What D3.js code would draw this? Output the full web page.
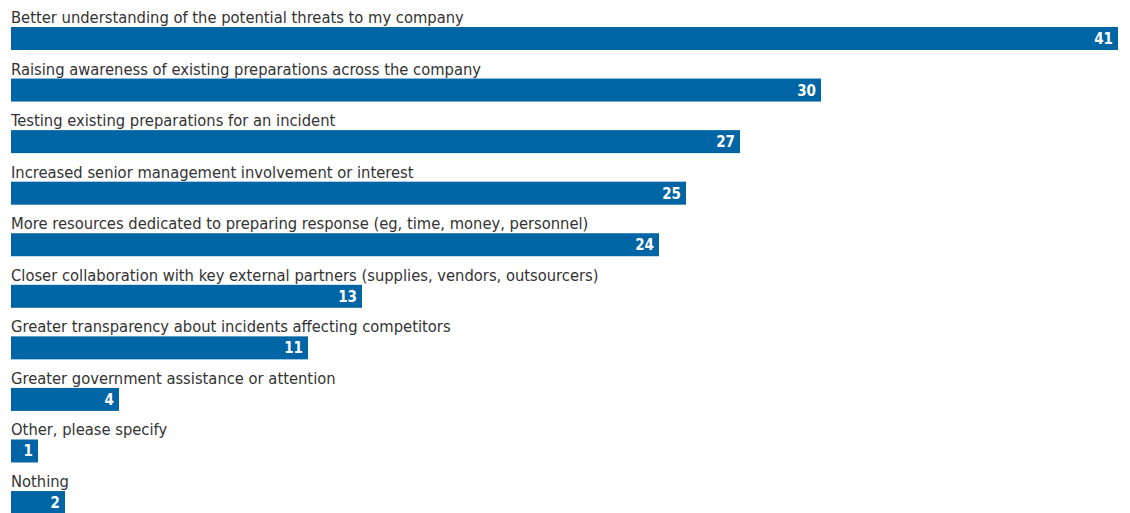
<!DOCTYPE html>
<html>
<head>
<meta charset="utf-8">
<script src="https://cdn.jsdelivr.net/npm/d3@7"></script>
<style>
  html, body { margin: 0; padding: 0; background: #fff; }
  svg { display: block; }
</style>
</head>
<body>
<svg id="chart" width="1130" height="513"></svg>
<script>
// Survey responses, percentage of respondents
const categories = [
  "Better understanding of the potential threats to my company",
  "Raising awareness of existing preparations across the company",
  "Testing existing preparations for an incident",
  "Increased senior management involvement or interest",
  "More resources dedicated to preparing response (eg, time, money, personnel)",
  "Closer collaboration with key external partners (supplies, vendors, outsourcers)",
  "Greater transparency about incidents affecting competitors",
  "Greater government assistance or attention",
  "Other, please specify",
  "Nothing"
];
const values = [41, 30, 27, 25, 24, 13, 11, 4, 1, 2];

const svg = d3.select("#chart");
const marginLeft = 11, marginTop = 27, rowStep = 51.56, barH = 23;

const x = d3.scaleLinear().domain([0, 41]).range([marginLeft, 1118]);
const y = d3.scaleBand().domain(categories)
  .range([marginTop, marginTop + rowStep * categories.length])
  .paddingInner(0).paddingOuter(0);

const rows = svg.selectAll("g.row").data(categories).join("g")
  .attr("class", "row")
  .attr("transform", d => `translate(0,${y(d)})`);

// category label above each bar
rows.append("text")
  .attr("x", marginLeft)
  .attr("y", -4)
  .attr("font-family", "'DejaVu Sans Condensed', 'DejaVu Sans', sans-serif")
  .attr("font-size", 16.4)
  .attr("fill", "#333")
  .text(d => d);

rows.append("rect")
  .attr("x", x(0))
  .attr("y", 0)
  .attr("width", (d, i) => x(values[i]) - x(0))
  .attr("height", barH)
  .attr("fill", "#0065a4");

// value inside the bar end
rows.append("text")
  .attr("x", (d, i) => x(values[i]) - 5)
  .attr("y", barH / 2 + 5.5)
  .attr("text-anchor", "end")
  .attr("font-family", "'DejaVu Sans Condensed', 'DejaVu Sans', sans-serif")
  .attr("font-weight", "bold")
  .attr("font-size", 15)
  .attr("fill", "#fff")
  .text((d, i) => values[i]);
</script>
</body>
</html>
